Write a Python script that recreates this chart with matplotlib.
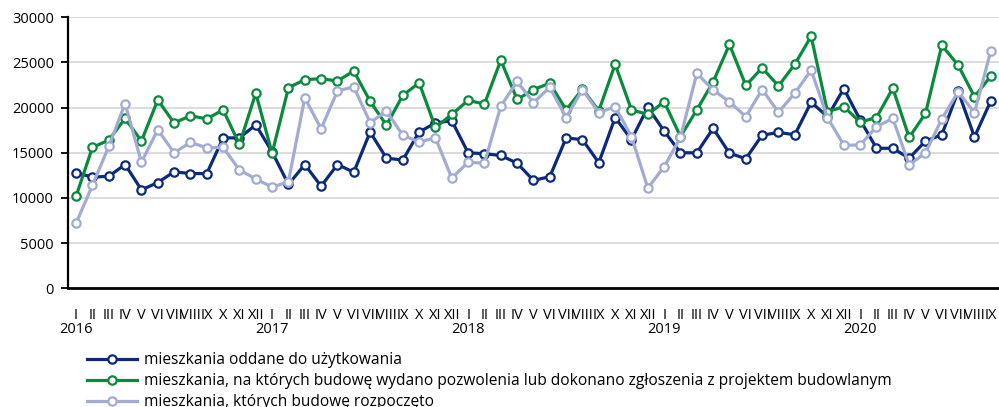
import matplotlib
matplotlib.use("Agg")
import matplotlib.pyplot as plt

plt.rcParams['font.family'] = ['Open Sans', 'DejaVu Sans']

months = ["I", "II", "III", "IV", "V", "VI", "VII", "VIII", "IX", "X", "XI", "XII"]
years = ["2016", "2017", "2018", "2019", "2020"]
months_in_last_year = 9

labels = months * 4 + months[:months_in_last_year]

oddane = [
    12800, 12300, 12400, 13700, 10900, 11700, 12900, 12700, 12700, 16650, 16650, 18100,
    15100, 11500, 13700, 11300, 13700, 12850, 17300, 14400, 14200, 17300, 18300, 18550,
    15000, 14900, 14700, 13850, 11950, 12350, 16650, 16450, 13900, 18900, 16450, 20050,
    17400, 15000, 15000, 17700, 14950, 14350, 16950, 17250, 17000, 20600, 19000, 22100,
    18650, 15500, 15500, 14400, 16300, 17000, 21800, 16750, 20750,
]
pozwolenia = [
    10200, 15600, 16400, 18800, 16300, 20850, 18300, 19100, 18750, 19750, 15950, 21600,
    14950, 22200, 23100, 23200, 22950, 24050, 20700, 18050, 21350, 22750, 17800, 19250,
    20800, 20400, 25250, 20900, 22000, 22700, 19750, 22050, 19650, 24800, 19750, 19250,
    20650, 16800, 19750, 22850, 27000, 22450, 24400, 22400, 24800, 27900, 19550, 20100,
    18400, 18900, 22150, 16700, 19350, 26900, 24700, 21200, 23500,
]
rozpoczete = [
    7200, 11400, 15700, 20450, 13950, 17550, 15000, 16150, 15550, 15600, 13100, 12100,
    11200, 11800, 21100, 17650, 21850, 22300, 18350, 19600, 16950, 16200, 16650, 12200,
    13950, 13850, 20150, 22900, 20550, 22250, 18900, 22000, 19450, 20100, 16800, 11100,
    13450, 16700, 23800, 21950, 20650, 19000, 22000, 19500, 21600, 24150, 18900, 15850,
    15850, 17900, 18800, 13650, 15000, 18750, 21750, 19450, 26300,
]

series_names = [
    "mieszkania oddane do użytkowania",
    "mieszkania, na których budowę wydano pozwolenia lub dokonano zgłoszenia z projektem budowlanym",
    "mieszkania, których budowę rozpoczęto",
]
colors = ["#0b2a7c", "#0b8a3e", "#a2acd2"]

fig = plt.figure(figsize=(9.99, 4.07), dpi=100)
ax = fig.add_axes([0.068, 0.2917, 0.932, 0.6658])

x = list(range(len(labels)))
handles = []
for vals, name, c in zip([oddane, pozwolenia, rozpoczete], series_names, colors):
    h, = ax.plot(x, vals, color=c, lw=2.3, marker='o', ms=6, mfc='white',
                 mec=c, mew=1.6, label=name, clip_on=False)
    handles.append(h)

ax.set_xlim(-0.5, len(labels) - 0.5)
ax.set_ylim(0, 30000)
ax.set_yticks(range(0, 30001, 5000))
ax.yaxis.grid(True, color="#d9d9d9", lw=1.3)
ax.set_axisbelow(True)
for s in ["top", "right"]:
    ax.spines[s].set_visible(False)
ax.spines["left"].set_linewidth(1.6)
ax.spines["bottom"].set_linewidth(2.0)
ax.tick_params(axis='y', length=5, width=1.3, pad=5, labelsize=10.5, colors='black')
ax.set_xticks(x)
ax.set_xticklabels(labels)
ax.tick_params(axis='x', length=0, pad=14, labelsize=10.5)

for k, yr in enumerate(years):
    ax.text(12 * k, -0.153, yr, transform=ax.get_xaxis_transform(),
            ha='center', va='center', fontsize=10.5)

fig.legend(handles=handles, loc='upper left', bbox_to_anchor=(0.087, 0.135),
           frameon=False, fontsize=11.2, handlelength=3.25, handletextpad=0.45,
           labelspacing=0.32, borderaxespad=0, borderpad=0)

fig.savefig("out.png", dpi=100)
